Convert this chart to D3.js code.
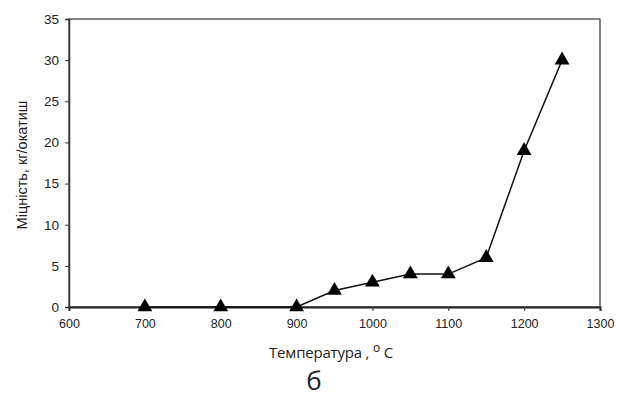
<!DOCTYPE html>
<html>
<head>
<meta charset="utf-8">
<script src="https://cdn.jsdelivr.net/npm/d3@7"></script>
<style>
  body { margin: 0; background: #fff; }
  svg text { fill: #222; }
</style>
</head>
<body>
<svg id="chart" width="617" height="398"></svg>
<script>
// data
const temperatures = [700, 800, 900, 950, 1000, 1050, 1100, 1150, 1200, 1250];
const strength = [0, 0, 0, 2, 3, 4, 4, 6, 19, 30];
const xTicks = [600, 700, 800, 900, 1000, 1100, 1200, 1300];
const yTicks = [0, 5, 10, 15, 20, 25, 30, 35];

const svg = d3.select('#chart');
const plotLeft = 69, plotRight = 600, plotTop = 19, plotBottom = 307;

const x = d3.scaleLinear().domain([600, 1300]).range([plotLeft, plotRight]);
const y = d3.scaleLinear().domain([0, 35]).range([plotBottom, plotTop]);

// frame
svg.append('rect')
  .attr('x', plotLeft).attr('y', plotTop)
  .attr('width', plotRight - plotLeft).attr('height', plotBottom - plotTop)
  .attr('fill', 'none').attr('stroke', '#444').attr('stroke-width', 1.3);

const xAxis = svg.append('g')
  .attr('transform', `translate(0,${plotBottom})`)
  .call(d3.axisBottom(x).tickValues(xTicks).tickSize(4).tickPadding(8).tickFormat(d3.format('d')));
xAxis.select('.domain').attr('stroke', '#222').attr('stroke-width', 2);
xAxis.selectAll('text').style('font-family', 'Liberation Sans, Arial').style('font-size', '12.5px').attr('fill', '#333');

const yAxis = svg.append('g')
  .attr('transform', `translate(${plotLeft},0)`)
  .call(d3.axisLeft(y).tickValues(yTicks).tickSize(4).tickPadding(6));
yAxis.select('.domain').attr('stroke', '#333').attr('stroke-width', 1.5);
yAxis.selectAll('text').style('font-family', 'Liberation Sans, Arial').style('font-size', '13.5px').attr('fill', '#222');
svg.selectAll('.tick line').attr('stroke', '#333');

// line
const points = temperatures.map((t, i) => [t, strength[i]]);
svg.append('path')
  .datum(points)
  .attr('fill', 'none')
  .attr('stroke', '#111')
  .attr('stroke-width', 1.5)
  .attr('d', d3.line().x(d => x(d[0])).y(d => y(d[1])));

// triangles
svg.selectAll('.pt')
  .data(points)
  .enter()
  .append('path')
  .attr('class', 'pt')
  .attr('transform', d => `translate(${x(d[0])},${y(d[1])})`)
  .attr('d', d3.symbol().type(d3.symbolTriangle).size(95))
  .attr('fill', '#000');

// labels
svg.append('text')
  .attr('transform', 'translate(27,165) rotate(-90)')
  .attr('text-anchor', 'middle')
  .style('font-family', 'Liberation Sans, Arial')
  .style('font-size', '14.5px')
  .text('Міцність, кг/окатиш');

const xl = svg.append('text')
  .attr('x', 331).attr('y', 358)
  .attr('text-anchor', 'middle')
  .style('font-family', 'Open Sans, sans-serif')
  .style('font-size', '15px')
  .style('letter-spacing', '-0.2px');
xl.append('tspan').text('Температура , ');
xl.append('tspan').attr('dy', -6).style('font-size', '12px').text('o');
xl.append('tspan').attr('dy', 6).text(' C');

svg.append('text')
  .attr('x', 314).attr('y', 390)
  .attr('text-anchor', 'middle')
  .style('font-family', 'Open Sans, sans-serif')
  .style('font-size', '26px')
  .text('б');
</script>
</body>
</html>
